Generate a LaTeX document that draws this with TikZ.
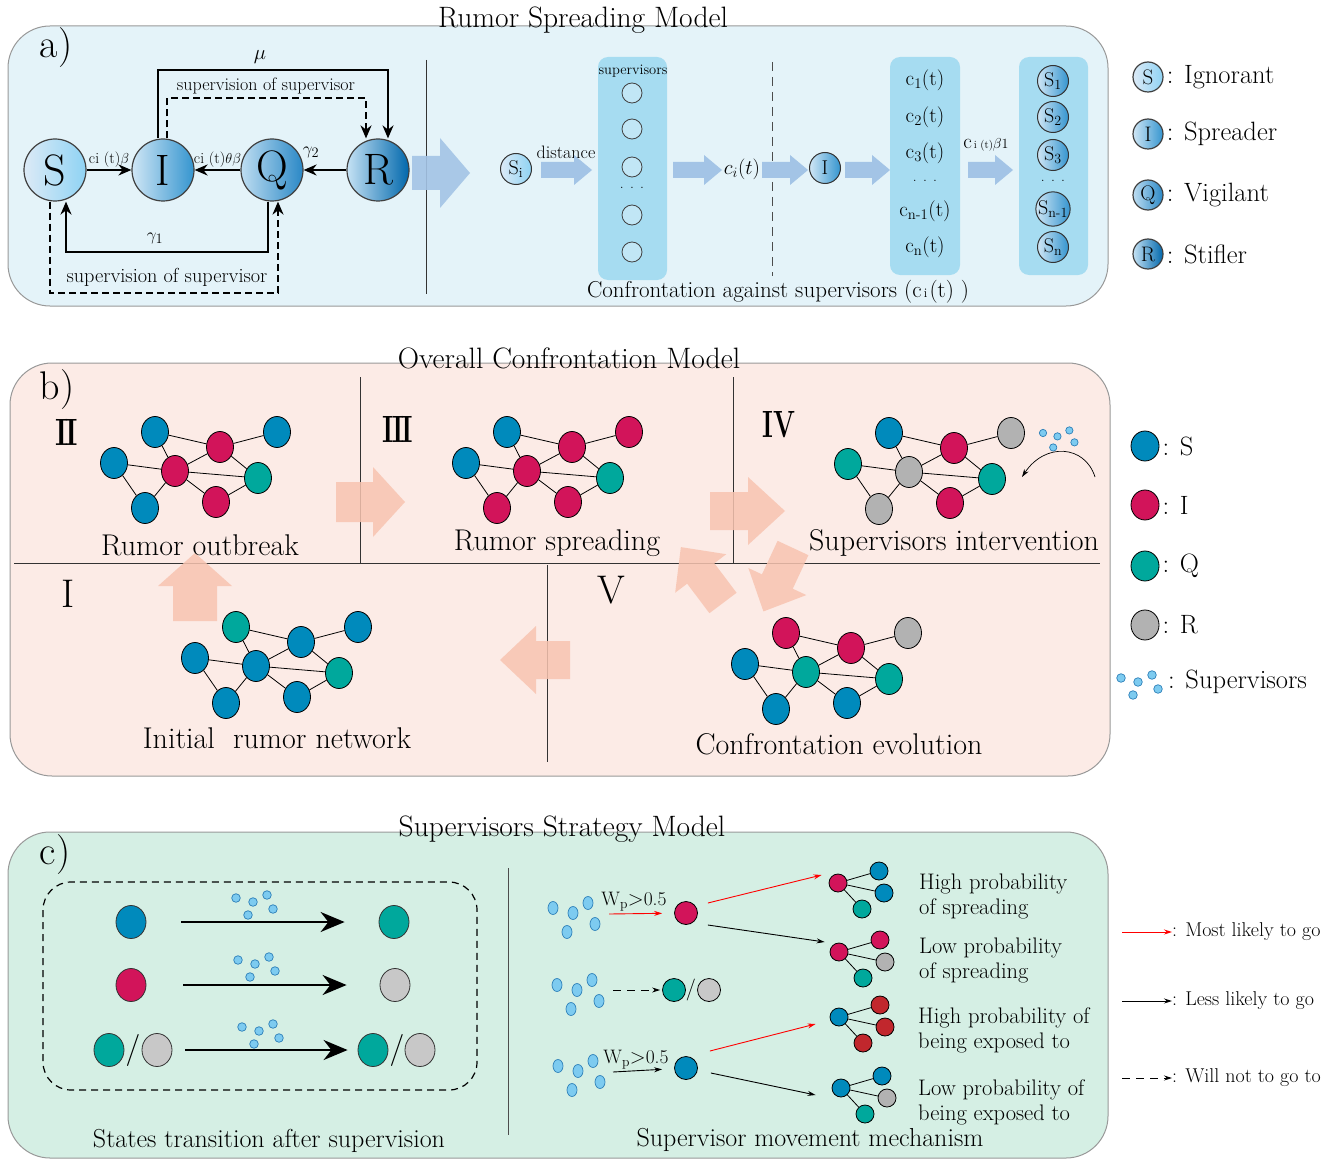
\documentclass[tikz,border=0pt]{standalone}
\usepackage{amsmath}
\usetikzlibrary{arrows.meta,calc,positioning,shapes.geometric}

\definecolor{paneA}{HTML}{E4F3F9}
\definecolor{paneB}{HTML}{FCEBE6}
\definecolor{paneC}{HTML}{D5EFE4}
\definecolor{colblue}{HTML}{A6DCF1}
\definecolor{arrblue}{HTML}{A3C4E6}
\definecolor{peach}{HTML}{F8C4B0}
\definecolor{nS}{HTML}{008ABC}
\definecolor{nI}{HTML}{D2145A}
\definecolor{nQ}{HTML}{00A89C}
\definecolor{nR}{HTML}{B2B2B2}
\definecolor{nRc}{HTML}{C8C8C8}
\definecolor{nIc}{HTML}{C1272D}
\definecolor{supfill}{HTML}{7DCBF0}
\definecolor{supline}{HTML}{2C7FB8}
\definecolor{shSl}{HTML}{DCEAF6}
\definecolor{shSr}{HTML}{8FD3F4}
\definecolor{shIl}{HTML}{CFE6F5}
\definecolor{shIr}{HTML}{3595CF}
\definecolor{shQl}{HTML}{BEDDF1}
\definecolor{shQr}{HTML}{2A88C6}
\definecolor{shRl}{HTML}{C5E2F4}
\definecolor{shRr}{HTML}{0067AC}

% block arrow: style, tail, angle, length, body half width, head half width, head length
\newcommand{\blockarrow}[7]{%
  \begin{scope}[shift={#2},rotate=#3]
    \fill[#1] (0,-#5) -- (#4-#7,-#5) -- (#4-#7,-#6) -- (#4,0) -- (#4-#7,#6) -- (#4-#7,#5) -- (0,#5) -- cycle;
  \end{scope}}

% small rumor network: prefix, centre, colours of the eight nodes
\newcommand{\rumornet}[3]{%
  \begin{scope}[shift={#2}]
    \foreach \c [count=\k from 0] in {#3} {
      \pgfmathsetmacro\dx{{-20,45,102,-61,0,83,-30,41}[\k]}
      \pgfmathsetmacro\dy{{-39,-24,-39,-8,0,7,37,31}[\k]}
      \node[netnode, fill=\c] (#1-\k) at (\dx,\dy) {};
    }
    \foreach \p/\q in {0/1,0/4,1/2,1/4,1/5,3/4,3/6,4/6,4/5,4/7,7/5}
      \draw[netedge] (#1-\p) -- (#1-\q);
  \end{scope}}

% star with three leaves: prefix, root, colours
\newcommand{\startree}[3]{%
  \begin{scope}[shift={#2}]
    \foreach \c [count=\k from 0] in {#3} {
      \pgfmathsetmacro\dx{{0,41,46,24}[\k]}
      \pgfmathsetmacro\dy{{0,-12,10,26}[\k]}
      \node[treenode, fill=\c] (#1-\k) at (\dx,\dy) {};
    }
    \foreach \q in {1,2,3} \draw[netedge] (#1-0) -- (#1-\q);
  \end{scope}}

\tikzset{
  panel/.style={draw=black!40, line width=1pt, rounded corners=42pt},
  paneltitle/.style={font=\fontsize{29.5}{30}\selectfont, inner sep=0pt},
  panelmark/.style={font=\fontsize{40}{40}\selectfont, inner sep=0pt},
  sir/.style={circle, draw=black!75, line width=1.2pt, minimum size=62pt, inner sep=0pt, font=\fontsize{44}{44}\selectfont},
  shS/.style={left color=shSl, right color=shSr},
  shI/.style={left color=shIl, right color=shIr},
  shQ/.style={left color=shQl, right color=shQr},
  shR/.style={left color=shRl, right color=shRr},
  flow/.style={-{Stealth[length=13pt,width=11pt]}, line width=1.8pt},
  flowdash/.style={flow, dash pattern=on 7pt off 4pt},
  smalltext/.style={font=\fontsize{15.5}{16}\selectfont, inner sep=1pt},
  mini/.style={circle, draw=black!80, line width=1pt, minimum size=31pt, inner sep=0pt, shI, font=\fontsize{20}{20}\selectfont},
  colbox/.style={fill=colblue, rounded corners=10pt},
  supcirc/.style={circle, draw=black!75, line width=0.8pt, fill=colblue!70!white, minimum size=20pt, inner sep=0pt},
  feed/.style={fill=arrblue},
  nudge/.style={fill=peach, opacity=0.85},
  divider/.style={line width=0.8pt, draw=black!80},
  netnode/.style={ellipse, draw=black, line width=0.8pt, minimum width=27pt, minimum height=31pt, inner sep=0pt},
  netedge/.style={line width=0.8pt},
  treenode/.style={circle, draw=black, line width=0.8pt, minimum size=18pt, inner sep=0pt},
  stagelabel/.style={font=\fontsize{30}{30}\selectfont, inner sep=0pt},
  roman/.style={font=\fontsize{40}{40}\selectfont, inner sep=0pt},
  romanbold/.style={font=\bfseries\fontsize{38}{38}\selectfont, inner sep=0pt},
  legendtext/.style={font=\fontsize{26.5}{28}\selectfont, inner sep=0pt},
  bigstate/.style={ellipse, draw=black!80, line width=0.8pt, minimum width=30pt, minimum height=33pt, inner sep=0pt},
  bigflow/.style={-{Stealth[length=24pt,width=20pt]}, line width=2.2pt},
  supdot/.style={draw=supline, fill=supfill, line width=0.7pt},
  cstate/.style={circle, draw=black, line width=0.8pt, minimum size=23pt, inner sep=0pt},
  mostly/.style={draw=red, line width=0.9pt, -{Stealth[length=8pt,width=5pt]}},
  lesslikely/.style={draw=black, line width=0.9pt, -{Stealth[length=8pt,width=5pt]}},
  willnot/.style={lesslikely, dash pattern=on 8pt off 6pt},
  ctext/.style={font=\fontsize{22.5}{25}\selectfont, align=left, anchor=west, inner sep=0pt},
  captext/.style={font=\fontsize{26}{27}\selectfont, inner sep=0pt},
  legc/.style={font=\fontsize{20}{20}\selectfont, anchor=west, inner sep=0pt},
  pics/crowd/.style={code={\foreach \dx/\dy in {0/0,17/4,31/-3,12/17,37/11} \draw[supdot] (\dx,\dy) circle[radius=4.3pt];}},
  pics/crowdbig/.style={code={\foreach \dx/\dy in {0/0,20/5,35/-5,14/24,42/16} \draw[supdot] (\dx,\dy) ellipse[x radius=5pt, y radius=6.5pt];}},
}

\begin{document}
\begin{tikzpicture}[x=1pt,y=-1pt]
\useasboundingbox (0,0) rectangle (1338,1161);

% ---------------- a) Rumor spreading model
\filldraw[panel, fill=paneA] (8,26) rectangle (1108,306);
\node[paneltitle] (titleA) at (583,20) {Rumor Spreading Model};
\node[panelmark] (markA) at (56,48) {a)};

\node[sir, shS] (S) at (55,170) {S};
\node[sir, shI] (I) at (163,170) {I};
\node[sir, shQ] (Q) at (272,170) {Q};
\node[sir, shR] (R) at (378,170) {R};

\draw[flow] (S) -- node[smalltext, above=1pt] (labSI) {ci (t)$\beta$} (I);
\draw[flow] (Q) -- node[smalltext, above=1pt] (labQI) {ci (t)$\theta\beta$} (I);
\draw[flow] (R) -- (Q);
\node[smalltext, font=\fontsize{19}{20}\selectfont] (labRQ) at (311,152) {$\gamma_2$};
\draw[flow] ([xshift=-5pt]I.north) -- ++(0,-68) -| ([xshift=10pt]R.north);
\node[smalltext, font=\fontsize{20}{20}\selectfont] (labmu) at (260,57) {$\mu$};
\draw[flowdash] ([xshift=4pt]I.north) -- ++(0,-40) -| ([xshift=-12pt]R.north);
\node[smalltext, font=\fontsize{18}{18}\selectfont] (labsupA) at (266,86) {supervision of supervisor};
\draw[flow] ([xshift=-4pt]Q.south) -- ++(0,50) -| ([xshift=11pt]S.south);
\node[smalltext, font=\fontsize{19}{20}\selectfont] (labg1) at (155,238) {$\gamma_1$};
\draw[flowdash] ([xshift=-5pt]S.south) -- ++(0,91) -| ([xshift=6pt]Q.south);
\node[smalltext, font=\fontsize{20.3}{21}\selectfont] (labsupB) at (167,277) {supervision of supervisor};

\draw[divider] (426,60) -- (426,294);
\blockarrow{feed, opacity=0.9}{(412,173)}{0}{58}{17}{35}{30}

% confrontation against supervisors
\node[mini, shS] (Si) at (516,169) {S\textsubscript{i}};
\node[smalltext, font=\fontsize{18}{18}\selectfont] (dist) at (566,152) {distance};
\blockarrow{feed}{(541,170)}{0}{51}{8}{15}{18}
\fill[colbox] (598,57) rectangle (667,280);
\node[smalltext, font=\fontsize{14.5}{15}\selectfont] (suplab) at (633,71) {supervisors};
\foreach \y [count=\k] in {93,129,167,215,252}
  \node[supcirc] (sup\k) at (632,\y) {};
\node[smalltext] (supdots) at (632,188) {. . .};
\blockarrow{feed}{(673,170)}{0}{49}{8}{15}{18}
\node[font=\fontsize{22}{22}\selectfont, inner sep=0pt] (ci) at (742,169) {$c_i(t)$};
\draw[dash pattern=on 9pt off 6pt, line width=0.8pt, black!70] (772,62) -- (772,276);
\blockarrow{feed}{(762,170)}{0}{46}{8}{15}{18}
\node[mini] (Isp) at (825,168) {I};
\blockarrow{feed}{(845,170)}{0}{45}{8}{15}{18}
\fill[colbox] (890,57) rectangle (960,275);
\foreach \y/\t [count=\k] in {80/1,117/2,153/3,211/n-1,247/n}
  \node[font=\fontsize{21}{21}\selectfont, inner sep=0pt] (cc\k) at (925,\y) {c\textsubscript{\t}(t)};
\node[smalltext] (cdots) at (925,181) {. . .};
\node[inner sep=0pt] (cib) at (986,145) {{\fontsize{21}{21}\selectfont c}{\fontsize{11}{11}\selectfont\,i (t)}{\fontsize{14}{14}\selectfont$\beta$1}};
\blockarrow{feed}{(968,170)}{0}{45}{8}{15}{18}
\fill[colbox] (1019,57) rectangle (1088,275);
\foreach \y/\t [count=\k] in {81/1,117/2,155/3,209/n-1,247/n}
  \node[mini] (Sn\k) at (1053,\y) {S\textsubscript{\t}};
\node[smalltext] (sdots) at (1053,181) {. . .};
\node[font=\fontsize{23}{24}\selectfont, inner sep=0pt] (conf) at (778,292) {Confrontation against supervisors (c{\fontsize{13}{13}\selectfont\,i\,}(t) )};

% legend a
\node[sir, shS, minimum size=30pt, font=\fontsize{21}{21}\selectfont] (legS) at (1148,77) {S};
\node[sir, shI, minimum size=30pt, font=\fontsize{21}{21}\selectfont] (legI) at (1148,134) {I};
\node[sir, shQ, minimum size=30pt, font=\fontsize{21}{21}\selectfont] (legQ) at (1148,195) {Q};
\node[sir, shR, minimum size=30pt, font=\fontsize{21}{21}\selectfont] (legR) at (1148,254) {R};
\node[legendtext, right=3pt of legS] (legSt) {: Ignorant};
\node[legendtext, right=3pt of legI] (legIt) {: Spreader};
\node[legendtext, right=3pt of legQ] (legQt) {: Vigilant};
\node[legendtext, right=3pt of legR] (legRt) {: Stifler};

% ---------------- b) Overall confrontation model
\filldraw[panel, fill=paneB] (10,363) rectangle (1110,776);
\node[paneltitle] (titleB) at (569,358) {Overall Confrontation Model};
\node[panelmark] (markB) at (57,390) {b)};

\draw[divider] (14,563) -- (1100,563);
\draw[divider] (360,377) -- (360,563);
\draw[divider] (733,377) -- (733,563);
\draw[divider] (547,565) -- (547,762);

\blockarrow{nudge}{(195,621)}{90}{68}{22}{37}{33}
\blockarrow{nudge}{(336,502)}{0}{69}{20}{35}{32}
\blockarrow{nudge}{(710,511)}{0}{75}{19}{34}{37}
\blockarrow{nudge}{(793,548)}{245}{70}{17}{32}{33}
\blockarrow{nudge}{(723,603)}{127}{70}{17}{32}{33}
\blockarrow{nudge}{(570,660)}{180}{70}{19}{34}{36}

\node[romanbold, xscale=0.78] (rII) at (67,432) {I\kern-3pt I};
\node[romanbold, xscale=0.72] (rIII) at (398,429) {I\kern-3pt I\kern-3pt I};
\node[romanbold, xscale=0.68] (rIV) at (779,425) {IV};
\node[roman] (rI) at (68,594) {I};
\node[roman] (rV) at (611,590) {V};

\rumornet{outbreak}{(175,471)}{nS,nI,nS,nS,nI,nQ,nS,nI}
\rumornet{spread}{(527,471)}{nS,nI,nI,nS,nI,nQ,nI,nI}
\rumornet{interv}{(909,472)}{nS,nI,nR,nQ,nR,nQ,nR,nI}
\rumornet{initial}{(256,666)}{nQ,nS,nS,nS,nS,nQ,nS,nS}
\rumornet{evol}{(806,672)}{nI,nI,nR,nS,nQ,nQ,nS,nS}

\node[stagelabel] (lbII) at (200,545) {Rumor outbreak};
\node[stagelabel] (lbIII) at (557,543) {Rumor spreading};
\node[stagelabel] (lbIV) at (954,543) {Supervisors intervention};
\node[stagelabel] (lbI) at (277,738) {Initial\ \ rumor network};
\node[stagelabel] (lbV) at (839,744) {Confrontation evolution};

\pic[scale=0.85] at (1043,433) {crowd};
\coordinate (curveA) at (1095,477);
\coordinate (curveB) at (1022,477);
\draw[lesslikely, line width=0.7pt] (curveA) .. controls (1085,445) and (1045,442) .. (curveB);

% legend b
\foreach \y/\c/\t in {446/nS/S,505/nI/I,566/nQ/Q,625/nR/R} {
  \node[netnode, fill=\c, minimum width=28pt, minimum height=30pt] (lb\t) at (1145,\y) {};
  \node[legendtext, right=3pt of lb\t] (lb\t t) {: \t};
}
\pic at (1121,678) {crowd};
\node[legendtext, anchor=west] (lbsup) at (1168,682) {: Supervisors};

% ---------------- c) Supervisors strategy model
\filldraw[panel, fill=paneC] (8,832) rectangle (1108,1158);
\node[paneltitle] (titleC) at (562,829) {Supervisors Strategy Model};
\node[panelmark] (markC) at (55,855) {c)};

\draw[dash pattern=on 7pt off 5pt, line width=1.2pt, rounded corners=28pt] (43,882) rectangle (477,1090);
\node[bigstate, fill=nS] (from1) at (131,922) {};
\node[bigstate, fill=nQ] (to1) at (394,922) {};
\draw[bigflow, shorten <=35pt, shorten >=34pt] (from1) -- (to1);
\node[bigstate, fill=nI] (from2) at (131,985) {};
\node[bigstate, fill=nRc] (to2) at (395,985) {};
\draw[bigflow, shorten <=37pt, shorten >=33pt] (from2) -- (to2);
\node[bigstate, fill=nQ] (from3a) at (109,1050) {};
\node[font=\fontsize{32}{32}\selectfont, inner sep=0pt] (from3s) at (133,1050) {/};
\node[bigstate, fill=nRc] (from3b) at (157,1050) {};
\node[bigstate, fill=nQ] (to3a) at (373,1050) {};
\node[font=\fontsize{32}{32}\selectfont, inner sep=0pt] (to3s) at (397,1050) {/};
\node[bigstate, fill=nRc] (to3b) at (420,1050) {};
\draw[bigflow, shorten <=13pt, shorten >=10pt] (from3b) -- (to3a);
\pic at (236,898) {crowd};
\pic at (238,960) {crowd};
\pic at (242,1027) {crowd};
\node[captext] (capL) at (269,1141) {States transition after supervision};

\draw[divider, black!70] (508,868) -- (508,1135);

% supervisor movement mechanism
\pic at (553,908) {crowdbig};
\node[font=\fontsize{19.5}{20}\selectfont, inner sep=0pt] (wp1) at (634,902) {W\textsubscript{p}$>$0.5};
\node[cstate, fill=nI] (p1) at (686,913) {};
\coordinate (w1) at (609,914);
\draw[mostly, shorten >=12pt] (w1) -- (p1);
\startree{T1}{(838,883)}{nI,nS,nS,nQ}
\startree{T2}{(839,952)}{nI,nI,nR,nQ}
\draw[mostly] ($(p1.east)+(10,-10)$) -- ($(T1-0.west)+(-7,-8)$);
\draw[lesslikely] ($(p1.east)+(10,12)$) -- ($(T2-0.west)+(-5,-10)$);

\pic at (557,985) {crowdbig};
\coordinate (w2) at (613,990);
\node[cstate, fill=nQ] (p2a) at (674,990) {};
\node[font=\fontsize{22}{22}\selectfont, inner sep=0pt] (p2s) at (691,990) {/};
\node[cstate, fill=nRc] (p2b) at (709,990) {};
\draw[willnot, shorten >=2pt] (w2) -- (p2a);

\pic at (558,1066) {crowdbig};
\node[font=\fontsize{19.5}{20}\selectfont, inner sep=0pt] (wp2) at (636,1060) {W\textsubscript{p}$>$0.5};
\node[cstate, fill=nS] (p3) at (686,1068) {};
\coordinate (w3) at (613,1072);
\draw[lesslikely, shorten >=12pt] (w3) -- (p3);
\startree{T3}{(839,1017)}{nS,nIc,nIc,nIc}
\startree{T4}{(841,1088)}{nS,nS,nR,nQ}
\draw[mostly] ($(p3.east)+(12,-17)$) -- ($(T3-0.west)+(-14,7)$);
\draw[lesslikely] ($(p3.east)+(13,5)$) -- ($(T4-0.west)+(-16,7)$);

\node[ctext] (tx1) at (919,896) {High probability\\of spreading};
\node[ctext] (tx2) at (919,960) {Low probability\\of spreading};
\node[ctext] (tx3) at (918,1030) {High probability of\\being exposed to};
\node[ctext] (tx4) at (918,1102) {Low probability of\\being exposed to};
\node[captext] (capR) at (810,1140) {Supervisor movement mechanism};

% legend c
\node[legc] (lc1) at (1172,932) {: Most likely to go};
\node[legc] (lc2) at (1172,1001) {: Less likely to go};
\node[legc] (lc3) at (1172,1078) {: Will not to go to};
\draw[mostly] ($(lc1.west)+(-50,0)$) -- (lc1.west);
\draw[lesslikely] ($(lc2.west)+(-50,0)$) -- (lc2.west);
\draw[willnot] ($(lc3.west)+(-50,0)$) -- (lc3.west);
\end{tikzpicture}
\end{document}
